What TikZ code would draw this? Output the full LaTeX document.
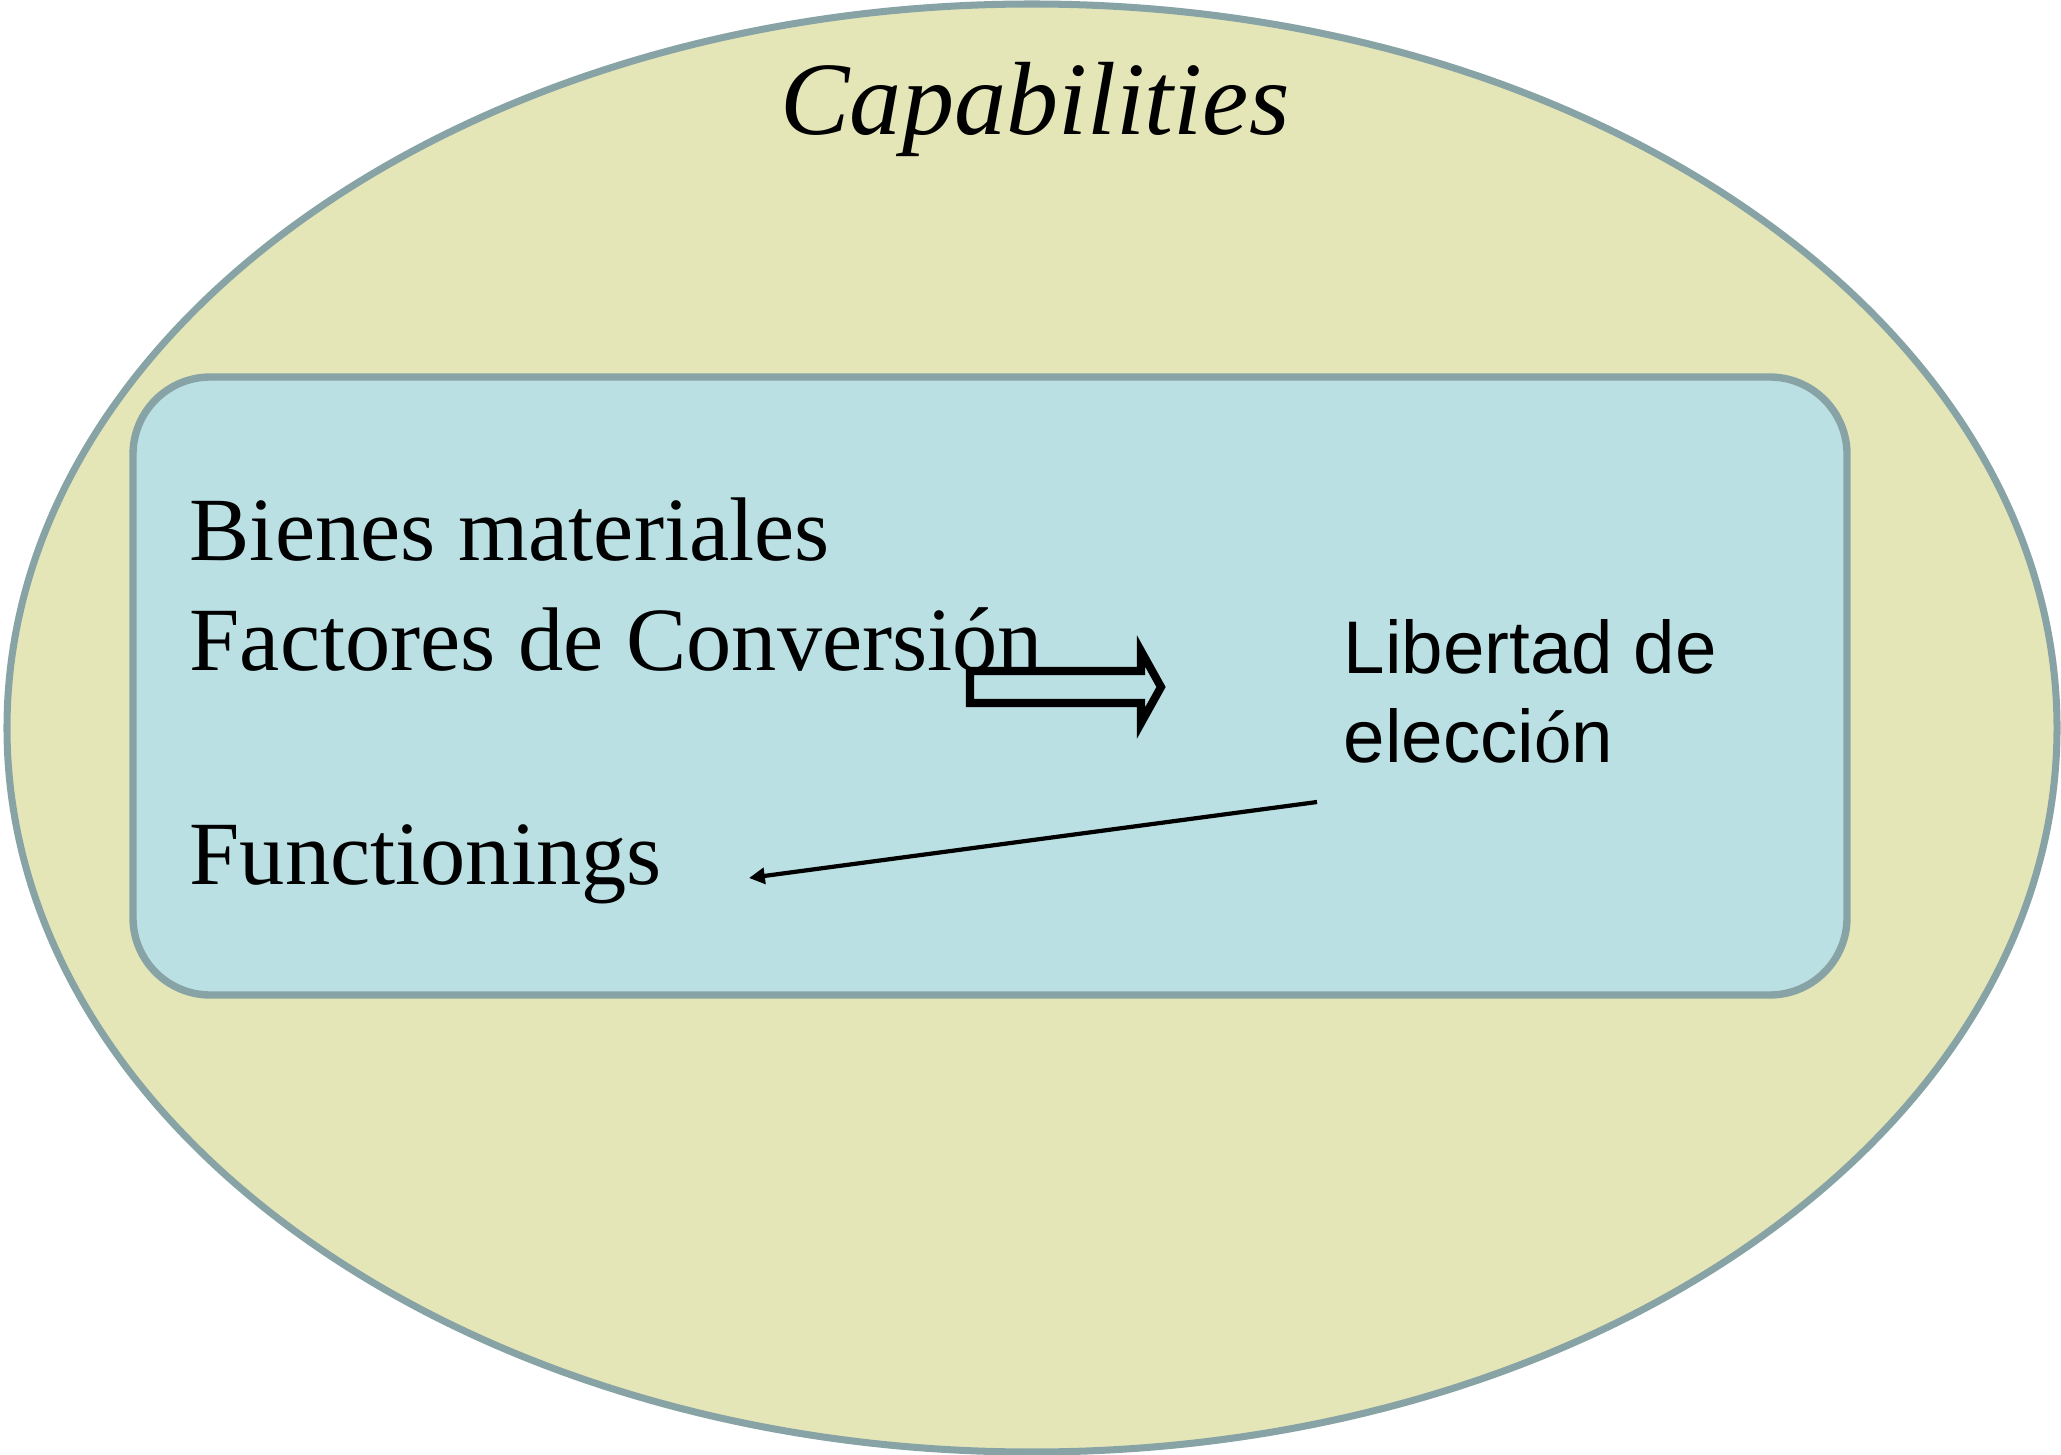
\documentclass[tikz,border=0pt]{standalone}
\usepackage{fontspec}
\setmainfont{Liberation Serif}
\newfontfamily\arialfont{Liberation Sans}
\usetikzlibrary{arrows.meta}
\definecolor{capfill}{HTML}{E4E6B8}
\definecolor{boxfill}{HTML}{BAE0E3}
\definecolor{edgegray}{HTML}{87A3A5}
\begin{document}
\begin{tikzpicture}[x=0.01cm,y=-0.01cm,
    txt/.style={anchor=base west,inner sep=0pt,font=\fontsize{25.7}{31}\selectfont},
    captxt/.style={anchor=base,inner sep=0pt,font=\fontsize{29.6}{36}\selectfont\itshape},
    sanstxt/.style={anchor=base west,inner sep=0pt,font=\fontsize{21.2}{25}\selectfont\arialfont}]
  \useasboundingbox (0,0) rectangle (2061,1455);
  \draw[edgegray,line width=2pt,fill=capfill] (1032,728) ellipse [x radius=1025,y radius=724];
  \draw[edgegray,line width=2.1pt,fill=boxfill,rounded corners=22pt] (133,377) rectangle (1847,995);
  \node[captxt] (cap) at (1035,135) {Capabilities};
  \node[txt] (bienes) at (189,560) {Bienes materiales};
  \node[txt] (factores) at (189,670) {Factores de Conversión};
  \node[txt] (func) at (189,884) {Functionings};
  \node[sanstxt] (libertad) at (1343,673) {Libertad de};
  \node[sanstxt] (eleccion) at (1343,762) {elecci{\rmfamily ó}n};
  \coordinate (from) at (1317,802);
  \coordinate (to) at (749,878);
  \draw[line width=2.3pt,line join=miter]
    (970,671) -- (1141,671) -- (1141,651) -- (1161,687) -- (1141,723)
    -- (1141,703) -- (970,703) -- cycle;
  \draw[-{Triangle[length=4.5pt,width=4.5pt]},line width=1.2pt] (from) -- (to);
\end{tikzpicture}
\end{document}
